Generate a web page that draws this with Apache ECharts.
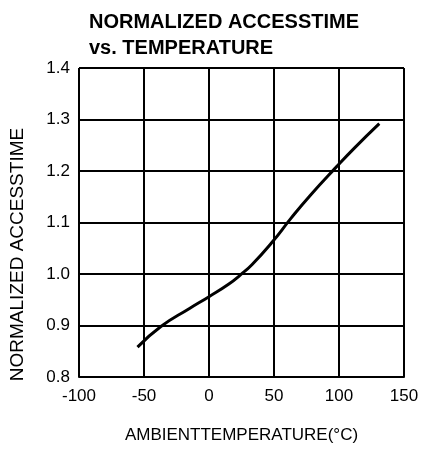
<!DOCTYPE html>
<html>
<head>
<meta charset="utf-8">
<script src="https://cdn.jsdelivr.net/npm/echarts@6/dist/echarts.min.js"></script>
<style>
html,body{margin:0;padding:0;background:#fff;}
#chart{width:427px;height:449px;}
</style>
</head>
<body>
<div id="chart"></div>
<script>
var titleText = 'NORMALIZED ACCESSTIME\nvs. TEMPERATURE';
var xAxisName = 'AMBIENTTEMPERATURE(°C)';
var yAxisName = 'NORMALIZED ACCESSTIME';
var xTicks = [-100, -50, 0, 50, 100, 150];
var yTicks = [0.8, 0.9, 1.0, 1.1, 1.2, 1.3, 1.4];
var temperature = [-55, -37, -15, 0, 15, 24, 33, 49, 63, 78, 98, 112, 131];
var accessTime = [0.858, 0.898, 0.933, 0.956, 0.980, 0.998, 1.018, 1.063, 1.108, 1.153, 1.208, 1.245, 1.292];

var points = temperature.map(function (t, i) { return [t, accessTime[i]]; });
var font = 'Liberation Sans, Arial, sans-serif';

var chart = echarts.init(document.getElementById('chart'), null, {renderer: 'canvas'});
chart.setOption({
  animation: false,
  backgroundColor: '#fff',
  title: {
    text: titleText,
    left: 84,
    top: 4,
    textStyle: {fontFamily: font, fontWeight: 'bold', fontSize: 20, color: '#000', lineHeight: 26}
  },
  grid: {left: 71, right: 23, top: 68, bottom: 62, containLabel: false},
  xAxis: {
    type: 'value',
    min: xTicks[0],
    max: xTicks[xTicks.length - 1],
    interval: 50,
    name: xAxisName,
    nameLocation: 'middle',
    nameGap: 50,
    nameTextStyle: {fontFamily: font, fontSize: 17, color: '#000'},
    axisLine: {show: true, lineStyle: {color: '#000', width: 2}},
    axisTick: {show: false},
    axisLabel: {fontFamily: font, fontSize: 17, color: '#000', margin: 11},
    splitLine: {show: true, lineStyle: {color: '#000', width: 2}}
  },
  yAxis: {
    type: 'value',
    min: yTicks[0],
    max: yTicks[yTicks.length - 1],
    interval: 0.1,
    name: yAxisName,
    nameLocation: 'middle',
    nameRotate: 90,
    nameGap: 52,
    nameTextStyle: {fontFamily: font, fontSize: 19, color: '#000', padding: [0, 64, 0, 0]},
    axisLine: {show: true, lineStyle: {color: '#000', width: 2}},
    axisTick: {show: false},
    axisLabel: {fontFamily: font, fontSize: 17, color: '#000', margin: 9,
      formatter: function (v) { return v.toFixed(1); }},
    splitLine: {show: true, lineStyle: {color: '#000', width: 2}}
  },
  series: [{
    type: 'line',
    data: points,
    smooth: true,
    showSymbol: false,
    lineStyle: {color: '#000', width: 3}
  }]
});
</script>
</body>
</html>
